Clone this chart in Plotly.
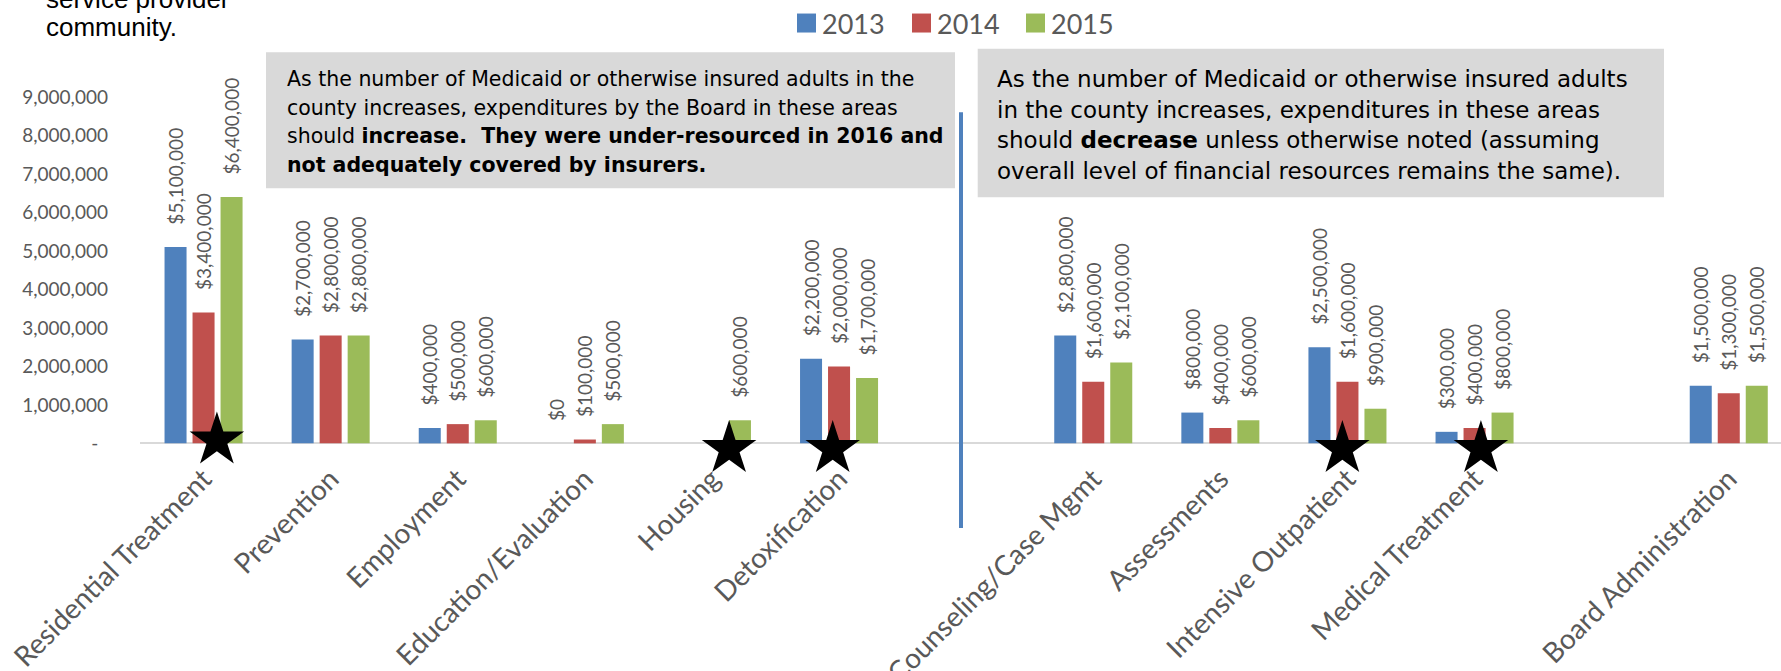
import plotly.graph_objects as go

# ---------------- data ----------------
categories = ["Residential Treatment", "Prevention", "Employment", "Education/Evaluation",
              "Housing", "Detoxification", "", "Counseling/Case Mgmt", "Assessments",
              "Intensive Outpatient", "Medical Treatment", "", "Board Administration"]
years = ["2013", "2014", "2015"]
v2013 = [5100000, 2700000, 400000, 0, None, 2200000, None, 2800000, 800000, 2500000, 300000, None, 1500000]
v2014 = [3400000, 2800000, 500000, 100000, None, 2000000, None, 1600000, 400000, 1600000, 400000, None, 1300000]
v2015 = [6400000, 2800000, 600000, 500000, 600000, 1700000, None, 2100000, 600000, 900000, 800000, None, 1500000]
y_tick_values = [0, 1000000, 2000000, 3000000, 4000000, 5000000, 6000000, 7000000, 8000000, 9000000]
starred = ["Residential Treatment", "Housing", "Detoxification", "Intensive Outpatient", "Medical Treatment"]

top_note = ["service provider", "community."]
left_note = ["As the number of Medicaid or otherwise insured adults in the",
             "county increases, expenditures by the Board in these areas",
             "should <b>increase.\u00a0 They were under-resourced in 2016 and</b>",
             "<b>not adequately covered by insurers.</b>"]
right_note = ["As the number of Medicaid or otherwise insured adults",
              "in the county increases, expenditures in these areas",
              "should <b>decrease</b> unless otherwise noted (assuming",
              "overall level of financial resources remains the same)."]

# ---------------- style / layout constants ----------------
colors = ["#4F81BD", "#C0504D", "#9BBB59"]
W, H = 1781, 671
OFF = 0                      # page body margin is removed by post_script below
CAT_PX = 127.1
PX_PER_M = 38.5
Y_MIN, Y_MAX = -900000, 9000000
ML, MR = 140 - OFF, 0
PLOT_TOP = 96.5 - OFF
ZERO_Y = 443 - OFF
PLOT_BOT = ZERO_Y + (-Y_MIN / 1e6) * PX_PER_M
MT, MB = PLOT_TOP, H - PLOT_BOT
PW, PH = W - ML - MR, PLOT_BOT - PLOT_TOP
GRAY = "#595959"
LABEL_FONT = "Lato"
BOX_FONT = "DejaVu Sans"
# star nudges (fraction of category, value units) — cosmetic placement
star_dx = {"Residential Treatment": 0.105, "Housing": 0.135, "Detoxification": -0.05,
           "Intensive Outpatient": -0.04, "Medical Treatment": 0.05}
star_dy = {"Residential Treatment": 0.08e6, "Housing": -0.14e6, "Detoxification": -0.14e6,
           "Intensive Outpatient": -0.14e6, "Medical Treatment": -0.14e6}


def fx(page_x):
    return (page_x - OFF - ML) / PW


def fy(page_y):
    return (PLOT_BOT - (page_y - OFF)) / PH


x_idx = list(range(len(categories)))
fig = go.Figure()

for name, vals, col in zip(years, [v2013, v2014, v2015], colors):
    texts = [("" if v is None else "\u00a0\u00a0\u00a0\u00a0${:,.0f}".format(v)) for v in vals]
    fig.add_trace(go.Bar(
        x=x_idx, y=vals, name=name, marker=dict(color=col, line=dict(width=0)),
        text=texts, textposition="outside", textangle=-90, cliponaxis=False,
        constraintext="none",
        textfont=dict(family=LABEL_FONT, size=19, color=GRAY),
        showlegend=False, hoverinfo="skip"))

# stars
sx = [categories.index(c) + star_dx[c] for c in starred]
sy = [star_dy[c] for c in starred]
fig.add_trace(go.Scatter(x=sx, y=sy, mode="markers", cliponaxis=False,
                         marker=dict(symbol="star", size=41, color="black", line=dict(width=0)),
                         showlegend=False, hoverinfo="skip"))

shapes = []
annotations = []

# text boxes
shapes.append(dict(type="rect", xref="paper", yref="paper", x0=fx(266), x1=fx(955), y0=fy(187.7), y1=fy(51.7),
                   fillcolor="#D9D9D9", line=dict(width=0), layer="below"))
shapes.append(dict(type="rect", xref="paper", yref="paper", x0=fx(977.7), x1=fx(1664), y0=fy(196.7), y1=fy(48.3),
                   fillcolor="#D9D9D9", line=dict(width=0), layer="below"))

for i, line in enumerate(left_note):
    annotations.append(dict(text=line, xref="paper", yref="paper", x=fx(285), y=fy(78.5 + 28.6 * i),
                            xanchor="left", yanchor="middle", showarrow=False, align="left",
                            font=dict(family=BOX_FONT, size=20.5, color="black")))
for i, line in enumerate(right_note):
    annotations.append(dict(text=line, xref="paper", yref="paper", x=fx(995), y=fy(78.5 + 30.7 * i),
                            xanchor="left", yanchor="middle", showarrow=False, align="left",
                            font=dict(family=BOX_FONT, size=23, color="black")))
for i, line in enumerate(top_note):
    annotations.append(dict(text=line, xref="paper", yref="paper", x=fx(44), y=fy(-2 + 28 * i),
                            xanchor="left", yanchor="middle", showarrow=False, align="left",
                            font=dict(family="Liberation Sans", size=26, color="black")))

# legend (custom, to match large swatches)
leg_x = [797, 912, 1026]
for name, col, lx in zip(years, colors, leg_x):
    shapes.append(dict(type="rect", xref="paper", yref="paper", x0=fx(lx), x1=fx(lx + 19),
                       y0=fy(32), y1=fy(13), fillcolor=col, line=dict(width=0)))
    annotations.append(dict(text=name, xref="paper", yref="paper", x=fx(lx + 23), y=fy(23),
                            xanchor="left", yanchor="middle", showarrow=False,
                            font=dict(family=LABEL_FONT, size=27, color=GRAY)))

# vertical divider between the two groups
shapes.append(dict(type="line", xref="paper", yref="paper", x0=fx(961), x1=fx(961), y0=fy(527.7), y1=fy(111.7),
                   line=dict(color="#4F81BD", width=4)))

y_tick_text = [("-\u00a0\u00a0" if v == 0 else "{:,}".format(v)) for v in y_tick_values]

fig.update_layout(
    width=W, height=H,
    margin=dict(l=ML, r=MR, t=MT, b=MB, pad=0),
    paper_bgcolor="white", plot_bgcolor="white",
    barmode="group", bargap=0.339, bargroupgap=0.214,
    font=dict(family=LABEL_FONT, color=GRAY),
    shapes=shapes, annotations=annotations,
    xaxis=dict(range=[-0.5, -0.5 + PW / CAT_PX], tickmode="array",
               tickvals=[i for i, c in enumerate(categories) if c],
               ticktext=[c for c in categories if c],
               tickangle=-45, tickfont=dict(family=LABEL_FONT, size=28, color=GRAY),
               ticklabelstandoff=-22, ticklabelshift=0, ticklabeloverflow="allow",
               showline=False, showgrid=False, zeroline=False,
               ticks="", automargin=False),
    yaxis=dict(range=[Y_MIN, Y_MAX], tickmode="array", tickvals=y_tick_values, ticktext=y_tick_text,
               tickfont=dict(family=LABEL_FONT, size=19, color=GRAY), showgrid=False,
               zeroline=True, zerolinecolor="#D9D9D9", zerolinewidth=2,
               showline=False, ticks="", ticklabelstandoff=31, automargin=False),
)

fig.write_html("out.html", config={"displayModeBar": False},
               post_script="document.body.style.margin='0px';")
